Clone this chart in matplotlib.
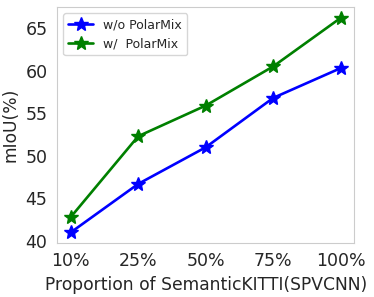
import matplotlib.pyplot as plt
import seaborn as sns

sns.set_style("white")

labels = ["10%", "25%", "50%", "75%", "100%"]
wo_polarmix = [41.0, 46.7, 51.0, 56.8, 60.3]
w_polarmix = [42.8, 52.3, 55.9, 60.5, 66.2]

fig, ax = plt.subplots(figsize=(3.74, 2.97), dpi=100)
x = range(len(labels))
ax.plot(x, wo_polarmix, color="blue", marker="*", markersize=10, linewidth=1.9, label="w/o PolarMix")
ax.plot(x, w_polarmix, color="green", marker="*", markersize=10, linewidth=1.9, label="w/  PolarMix")

ax.set_xticks(list(x))
ax.set_xticklabels(labels)
ax.set_xlim(-0.2, 4.2)
ax.set_ylim(39.8, 67.5)
ax.set_yticks([40, 45, 50, 55, 60, 65])
ax.tick_params(labelsize=12.5, colors="#262626")
ax.set_xlabel("Proportion of SemanticKITTI(SPVCNN)", fontsize=12.3)
ax.set_ylabel("mIoU(%)", fontsize=12.3)
for s in ax.spines.values():
    s.set_color("#cccccc")
ax.legend(loc="upper left", fontsize=9)

fig.subplots_adjust(left=0.153, right=0.947, top=0.977, bottom=0.183)
fig.savefig("out.png")
